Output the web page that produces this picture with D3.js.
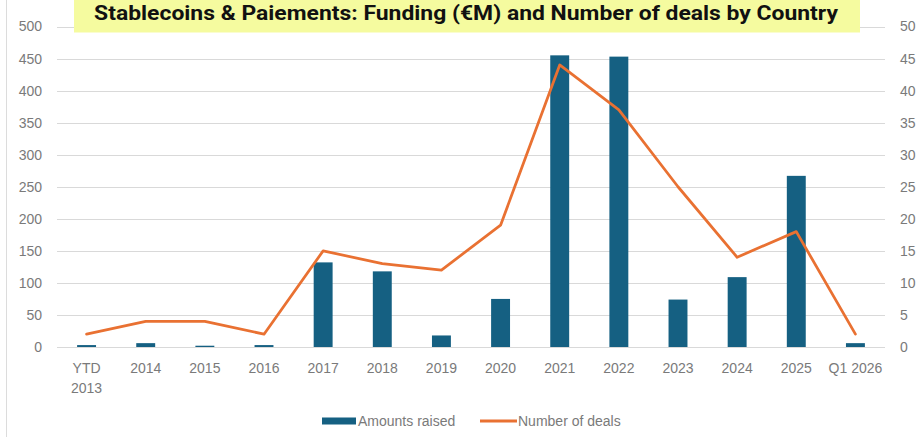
<!DOCTYPE html>
<html>
<head>
<meta charset="utf-8">
<script src="https://cdn.jsdelivr.net/npm/d3@7"></script>
<style>
  html, body { margin: 0; padding: 0; background: #fff; }
  svg { display: block; }
</style>
</head>
<body>
<svg id="chart" width="921" height="437"></svg>
<script>
// Stablecoins & payments funding by year
const categories = ["YTD 2013", "2014", "2015", "2016", "2017", "2018", "2019", "2020", "2021", "2022", "2023", "2024", "2025", "Q1 2026"];
const amountsRaised = [3, 6, 2, 3, 132, 118, 18, 75, 455, 453, 74, 109, 267, 6];
const numberOfDeals = [2, 4, 4, 2, 15, 13, 12, 19, 44, 37, 25, 14, 18, 2];
const leftTicks = [0, 50, 100, 150, 200, 250, 300, 350, 400, 450, 500];
const rightTicks = [0, 5, 10, 15, 20, 25, 30, 35, 40, 45, 50];
const seriesNames = ["Amounts raised", "Number of deals"];
const titleText = "Stablecoins & Paiements: Funding (€M) and Number of deals by Country";

const W = 921, H = 437;
const plot = { left: 57, right: 885, top: 26.5, bottom: 347 };
const barColor = "#156082";
const lineColor = "#E97132";
const textColor = "#7a7a7a";
const gridColor = "#d9d9d9";
const font = "'Liberation Sans', Arial, sans-serif";

const svg = d3.select("#chart");

// frame edge on the left
svg.append("line")
  .attr("x1", 6.5).attr("x2", 6.5).attr("y1", 0).attr("y2", H)
  .attr("stroke", "#dcdcdc").attr("stroke-width", 1);

const x = d3.scaleBand()
  .domain(categories)
  .range([plot.left, plot.right])
  .paddingInner(0.68)
  .paddingOuter(0.34);

const yLeft = d3.scaleLinear().domain([0, 500]).range([plot.bottom, plot.top]);
const yRight = d3.scaleLinear().domain([0, 50]).range([plot.bottom, plot.top]);

// gridlines
svg.append("g")
  .selectAll("line")
  .data(leftTicks)
  .join("line")
  .attr("x1", plot.left).attr("x2", plot.right)
  .attr("y1", d => Math.round(yLeft(d)) + 0.5)
  .attr("y2", d => Math.round(yLeft(d)) + 0.5)
  .attr("stroke", gridColor).attr("stroke-width", 1);

// left axis
const leftAxis = svg.append("g")
  .attr("transform", `translate(${plot.left - 15},0)`)
  .call(d3.axisLeft(yLeft).tickValues(leftTicks).tickSize(0).tickPadding(0));
leftAxis.select(".domain").remove();
leftAxis.selectAll("text")
  .attr("fill", textColor).style("font-family", font).style("font-size", "14px");

// right axis
const rightAxis = svg.append("g")
  .attr("transform", `translate(${plot.right + 15},0)`)
  .call(d3.axisRight(yRight).tickValues(rightTicks).tickSize(0).tickPadding(0));
rightAxis.select(".domain").remove();
rightAxis.selectAll("text")
  .attr("fill", textColor).style("font-family", font).style("font-size", "14px");

// bars
svg.append("g")
  .selectAll("rect")
  .data(amountsRaised)
  .join("rect")
  .attr("x", (d, i) => x(categories[i]))
  .attr("width", x.bandwidth())
  .attr("y", d => yLeft(d))
  .attr("height", d => plot.bottom - yLeft(d))
  .attr("fill", barColor);

// deals line
const line = d3.line()
  .x((d, i) => x(categories[i]) + x.bandwidth() / 2)
  .y(d => yRight(d));

svg.append("path")
  .datum(numberOfDeals)
  .attr("d", line)
  .attr("fill", "none")
  .attr("stroke", lineColor)
  .attr("stroke-width", 2.75)
  .attr("stroke-linejoin", "round")
  .attr("stroke-linecap", "round");

// category labels (the first one wraps onto two lines)
const xAxis = svg.append("g")
  .attr("transform", `translate(0,${plot.bottom})`)
  .call(d3.axisBottom(x).tickSize(0).tickFormat(() => ""));
xAxis.select(".domain").remove();
xAxis.selectAll(".tick text").each(function(d) {
  const t = d3.select(this)
    .attr("fill", textColor)
    .style("font-family", font)
    .style("font-size", "14px")
    .attr("dy", null)
    .attr("y", 0);
  const parts = d.startsWith("YTD") ? d.split(" ") : [d];
  parts.forEach((p, k) => {
    t.append("tspan").attr("x", 0).attr("y", 26 + k * 20).text(p);
  });
});

// title banner
const title = svg.append("g");
title.append("rect")
  .attr("x", 74).attr("y", 0).attr("width", 786).attr("height", 32.5)
  .attr("fill", "#f5fb9f");
const titleG = title.append("g");
const tt = titleG.append("text")
  .attr("x", 0).attr("y", 0)
  .attr("text-anchor", "middle")
  .style("font-family", "Roboto, 'Liberation Sans', sans-serif")
  .style("font-weight", 700)
  .style("font-size", "21px")
  .attr("fill", "#111")
  .text(titleText);
const tl = tt.node().getComputedTextLength();
titleG.attr("transform", `translate(466,19.6) scale(${(744 / tl).toFixed(4)},1)`);

// legend
const legend = svg.append("g").attr("transform", "translate(0,421)");
legend.append("rect")
  .attr("x", 322).attr("y", -3.5).attr("width", 34).attr("height", 7)
  .attr("fill", barColor);
legend.append("text")
  .attr("x", 358).attr("y", 5)
  .attr("fill", textColor).style("font-family", font).style("font-size", "14px")
  .text(seriesNames[0]);
legend.append("line")
  .attr("x1", 480).attr("x2", 517).attr("y1", 0).attr("y2", 0)
  .attr("stroke", lineColor).attr("stroke-width", 3);
legend.append("text")
  .attr("x", 518).attr("y", 5)
  .attr("fill", textColor).style("font-family", font).style("font-size", "14px")
  .text(seriesNames[1]);
</script>
</body>
</html>
